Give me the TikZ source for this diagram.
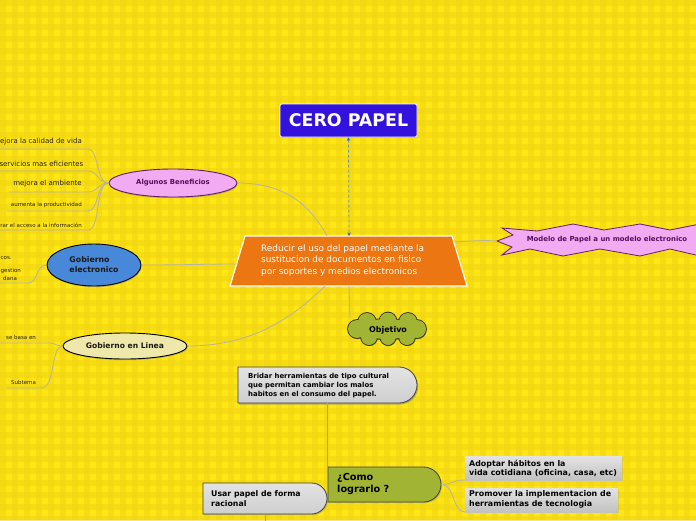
\documentclass[tikz,border=0pt]{standalone}
\usepackage{fontspec}
\setmainfont{DejaVu Sans}
\usetikzlibrary{arrows.meta,shapes.geometric,shapes.misc,shadows}
\definecolor{bgY}{RGB}{255,230,20}
\definecolor{stripeY}{RGB}{240,212,18}
\definecolor{lineG}{RGB}{182,180,165}
\definecolor{blueT}{RGB}{52,18,222}
\definecolor{orangeC}{RGB}{236,118,18}
\definecolor{pinkF}{RGB}{242,170,242}
\definecolor{purpleD}{RGB}{100,30,100}
\definecolor{purpleT}{RGB}{85,15,95}
\definecolor{blueE}{RGB}{72,136,216}
\definecolor{paleY}{RGB}{238,232,170}
\definecolor{greenO}{RGB}{162,180,52}
\definecolor{dashC}{RGB}{110,150,170}
\definecolor{arrC}{RGB}{40,110,210}
\definecolor{txtD}{RGB}{40,35,20}
\newcommand\myfs[2]{\fontsize{#1}{#2}\selectfont}
\newcommand\cloudlobes{%
  (367,322) circle (9) (388,321) circle (8.5) (408,322) circle (9)
  (357,329) circle (9) (417,329) circle (9)
  (369,337) circle (8) (388,337.5) circle (7.5) (407,337) circle (8)
  (387,329) ellipse (30 and 10)}
\tikzset{
  conn/.style={draw=lineG, line width=0.8pt},
  small/.style={inner sep=0pt, text=txtD, font=\myfs{7}{8}},
  tiny/.style={inner sep=0pt, text=txtD, font=\myfs{5.5}{6.5}},
  grayround/.style={rounded rectangle, rounded rectangle left arc=none, draw=black!75, line width=0.8pt,
    top color=gray!22, bottom color=gray!38},
  graybox/.style={inner sep=0pt, top color=gray!22, bottom color=gray!48},
  ellshadow/.style={drop shadow={opacity=0.45, shadow xshift=0.6pt, shadow yshift=-1.2pt}}
}
\begin{document}
\begin{tikzpicture}[x=1pt,y=-1pt]
\path[use as bounding box] (0,0) rectangle (696,520);
\clip (0,0) rectangle (696,520);
% background plaid
\fill[bgY] (0,0) rectangle (696,520);
\foreach \i in {0,12,...,696} \fill[stripeY, opacity=0.55] (\i,0) rectangle ++(6,520);
\foreach \j in {0,12,...,520} \fill[stripeY, opacity=0.55] (0,\j) rectangle ++(696,6);

% central trapezoid
\filldraw[fill=orangeC, draw=white, line width=1.2pt] (245,236) -- (452,236) -- (467,286) -- (230,286) -- cycle;
\node[anchor=west, align=left, inner sep=0pt, text=white, font=\myfs{8.9}{11.5}] (cen) at (261,260.5)
  {Reducir el uso del papel mediante la\\sustitucion de documentos en fisico\\por soportes y medios electronicos};
\coordinate (cenTop) at (349,236);
\coordinate (cenBot) at (349,286);
\coordinate (cenL) at (238,264);
\coordinate (cenR) at (455,242);
\coordinate (cenTL) at (327,236);
\coordinate (cenBL) at (325,286);

% title
\node[draw=white, line width=0.8pt, fill=blueT, rounded corners=1.5pt, minimum width=137pt, minimum height=33pt,
  text=white, font=\bfseries\myfs{17.4}{20}, drop shadow={opacity=0.3, shadow xshift=0.6pt, shadow yshift=-0.8pt}] (title) at (348.5,120.5) {CERO PAPEL};
\draw[dashC, line width=0.8pt, dash pattern=on 3pt off 2pt, {Stealth[length=3.5pt,width=3.5pt,color=arrC]}-{Stealth[length=3.5pt,width=3.5pt,color=arrC]}] (title.south) -- (cenTop);

% Algunos Beneficios
\node[ellipse, fill=pinkF, draw=purpleD, line width=0.9pt, minimum width=128pt, minimum height=28pt, inner sep=0pt,
  text=purpleT, font=\bfseries\myfs{6.9}{8}, ellshadow] (ab) at (173,183) {Algunos Beneficios};
\draw[conn] (ab.east) .. controls (285,183) and (310,205) .. (cenTL);
\node[small, anchor=east] (b1) at (82,142) {ejora la calidad de vida};
\node[small, anchor=east] (b2) at (83.5,164) {servicios mas eficientes};
\node[small, anchor=east] (b3) at (82,184) {mejora el ambiente};
\node[tiny, anchor=east] (b4) at (82,205) {aumenta la productividad};
\node[tiny, anchor=east] (b5) at (82,225) {rar el acceso a la información};
\coordinate (u1) at (88,149);
\coordinate (u2) at (88,171);
\coordinate (u3) at (88,192);
\coordinate (u4) at (88,211);
\coordinate (u5) at (88,230);
\draw[conn] (0,149) -- (u1) .. controls (99,149) and (96,183) .. (ab.west);
\draw[conn] (0,171) -- (u2) .. controls (98,171) and (98,183) .. (ab.west);
\draw[conn] (9,192) -- (u3) .. controls (98,192) and (98,183) .. (ab.west);
\draw[conn] (7,211) -- (u4) .. controls (99,211) and (96,183) .. (ab.west);
\draw[conn] (0,230) -- (u5) .. controls (101,230) and (95,183) .. (ab.west);

% Gobierno electronico
\node[ellipse, fill=blueE, draw=black, line width=0.9pt, minimum width=94pt, minimum height=42pt, inner sep=0pt,
  align=left, font=\bfseries\myfs{7.8}{10}, text=black!90, ellshadow] (ge) at (94,265) {Gobierno\\electronico};
\draw[conn] (ge.east) .. controls (180,265) and (210,264) .. (cenL);
\node[tiny, anchor=west] (g1) at (0.5,258) {cos.};
\node[tiny, anchor=west] (g2) at (0.5,271) {gestion};
\node[tiny, anchor=west] (g3) at (3,278) {dana};
\coordinate (gu) at (28,283);
\draw[conn] (0,283) -- (gu) .. controls (38,283) and (36,265) .. (ge.west);

% Gobierno en Linea
\node[ellipse, fill=paleY, draw=black, line width=0.9pt, minimum width=124pt, minimum height=26pt, inner sep=0pt,
  font=\bfseries\myfs{7.6}{9}, text=black!90, ellshadow] (gl) at (125,346) {Gobierno en Linea};
\draw[conn] (gl.east) .. controls (255,346) and (295,315) .. (cenBL);
\node[tiny, anchor=west] (l1) at (6,337) {se basa en};
\node[tiny, anchor=west] (l2) at (11,382) {Subtema};
\coordinate (lu1) at (48,343);
\coordinate (lu2) at (41,388);
\draw[conn] (0,343) -- (lu1) .. controls (56,343) and (56,346) .. (gl.west);
\draw[conn] (7,388) -- (lu2) .. controls (56,388) and (50,347) .. (gl.west);

% Modelo de Papel
\filldraw[fill=pinkF, draw=purpleD, line width=0.8pt]
  (502,228) -- (537,231) -- (573,224) -- (604,230) -- (640,224) -- (670,230) -- (700,224)
  -- (700,256) -- (670,249) -- (640,256) -- (600,249) -- (563,256) -- (530,249) -- (502,255)
  -- (512,247) -- (497,241) -- (513,235) -- cycle;
\coordinate (modL) at (497,241);
\node[inner sep=0pt, text=purpleT, font=\bfseries\myfs{6.9}{8}] (mod) at (607,240) {Modelo de Papel a un modelo electronico};
\draw[conn] (cenR) .. controls (470,241) and (485,240) .. (modL);

% Objetivo cloud
\coordinate (objL) at (350,318);
\draw[conn] (cenBot) -- (objL);
\fill[black, opacity=0.35, xshift=0.6pt, yshift=-1.2pt] \cloudlobes;
\draw[black!85, line width=1.6pt] \cloudlobes;
\fill[greenO] \cloudlobes;
\node[inner sep=0pt, font=\bfseries\myfs{8}{9}] (obj) at (388,330) {Objetivo};

% Bridar
\node[grayround, minimum width=179pt, minimum height=36pt, inner sep=0pt,
  drop shadow={opacity=0.55, shadow xshift=1.2pt, shadow yshift=-1.5pt}] (bri) at (327.5,385) {};
\node[anchor=west, align=left, inner sep=0pt, font=\bfseries\myfs{6.9}{9}] (brit) at (248,386)
  {Bridar herramientas de tipo cultural\\que permitan cambiar los malos\\habitos en el consumo del papel.};

% Como lograrlo
\node[rounded rectangle, rounded rectangle left arc=none, fill=greenO, draw=black!75, line width=0.8pt,
  minimum width=113pt, minimum height=35pt, inner sep=0pt,
  drop shadow={opacity=0.4, shadow xshift=1pt, shadow yshift=-1.2pt}] (como) at (384.5,484.5) {};
\node[anchor=west, align=left, inner sep=0pt, font=\bfseries\myfs{9.7}{12}] (comot) at (337,484) {¿Como\\lograrlo ?};
\draw[draw=gray!70!blue!60, line width=0.8pt] (como.north west) -- (como.north west |- bri.south);

% Usar papel
\node[grayround, minimum width=124pt, minimum height=31pt, inner sep=0pt,
  drop shadow={opacity=0.4, shadow xshift=1pt, shadow yshift=-1.2pt}] (usar) at (265,498.5) {};
\node[anchor=west, align=left, inner sep=0pt, font=\bfseries\myfs{7.8}{9.5}] (usart) at (211,498.5) {Usar papel de forma\\racional};
\draw[draw=gray!70!blue!60, line width=0.8pt] (usar.south) -- ++(0,10);

% Adoptar / Promover
\path[graybox, drop shadow={opacity=0.25, shadow xshift=0.8pt, shadow yshift=-1pt}] (465,456) rectangle (622,480);
\coordinate (ado) at (465,480);
\node[anchor=west, align=left, inner sep=0pt, font=\bfseries\myfs{7.9}{9.5}] (adot) at (469,468.5) {Adoptar hábitos en la\\vida cotidiana (oficina, casa, etc)};
\path[graybox, drop shadow={opacity=0.25, shadow xshift=0.8pt, shadow yshift=-1pt}] (465,488) rectangle (618,512);
\coordinate (pro) at (465,512);
\node[anchor=west, align=left, inner sep=0pt, font=\bfseries\myfs{7.9}{9.5}] (prot) at (469,499.5) {Promover la implementacion de\\herramientas de tecnologia};
\draw[conn] (como.east) .. controls (455,484) and (452,480) .. (ado);
\draw[conn] (como.east) .. controls (455,484) and (452,512) .. (pro);
\end{tikzpicture}
\end{document}
